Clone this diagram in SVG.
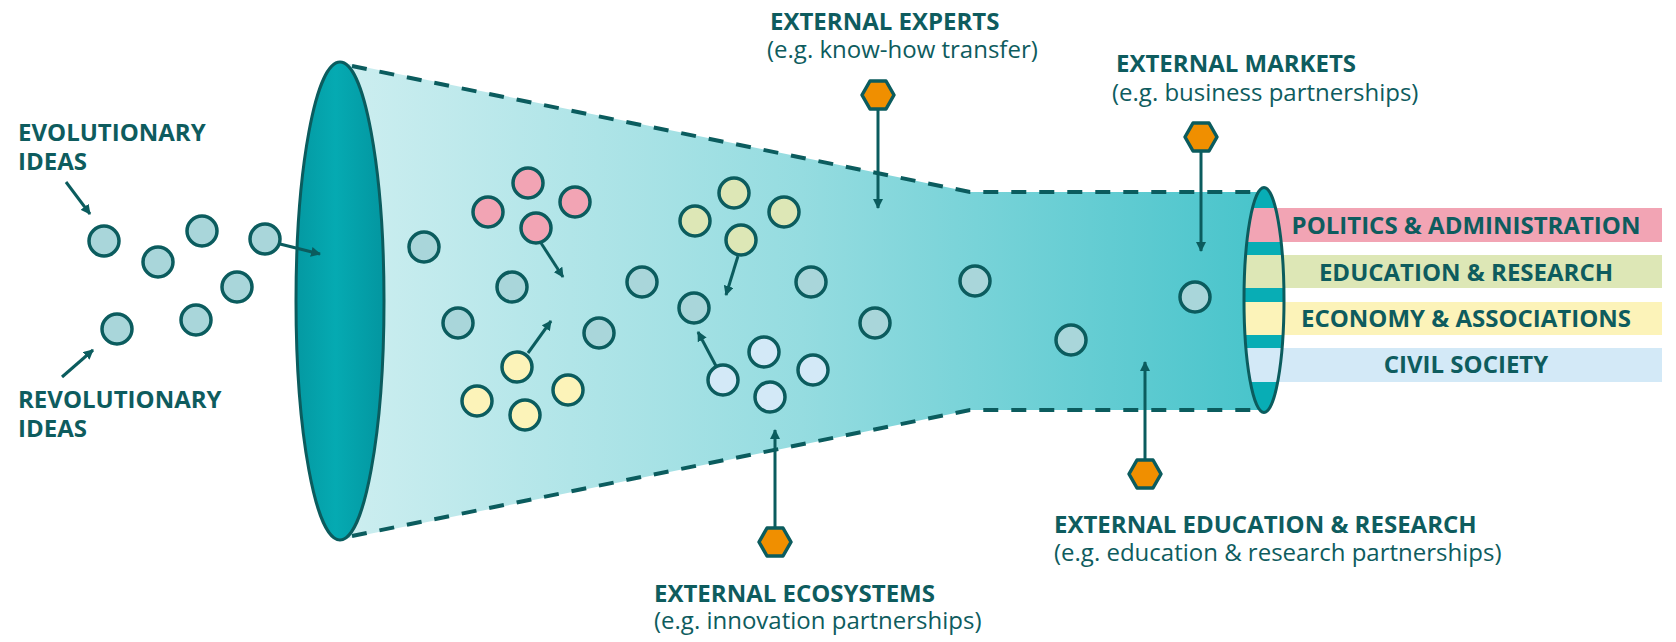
<svg xmlns="http://www.w3.org/2000/svg" width="1676" height="642" viewBox="0 0 1676 642">
<style>
.t{font-family:"Open Sans","Liberation Sans",sans-serif;fill:#0e5c5e}
.b{font-weight:700;font-size:24px}
.r{font-weight:400;font-size:24px}
.c{stroke:#0b5c5e;stroke-width:3.5}
.g{fill:#a9d6da}.p{fill:#f2a4b4}.gr{fill:#dde7b6}.y{fill:#fcf3b9}.bl{fill:#d3e9f7}
.ln{stroke:#0b5c5e;stroke-width:3;fill:none}
.hx{fill:#f08f00;stroke:#0b5c5e;stroke-width:3.5;stroke-linejoin:round}
.dash{stroke:#0b5c5e;stroke-width:4;fill:none;stroke-dasharray:15 13}
</style>
<defs>
<linearGradient id="fun" x1="340" y1="0" x2="1264" y2="0" gradientUnits="userSpaceOnUse">
<stop offset="0" stop-color="#cdeef0"/>
<stop offset="0.5" stop-color="#95dce0"/>
<stop offset="1" stop-color="#48c4cb"/>
</linearGradient>
<linearGradient id="mouth" x1="0" y1="0" x2="1" y2="0">
<stop offset="0" stop-color="#0499a2"/>
<stop offset="0.45" stop-color="#05aab2"/>
<stop offset="1" stop-color="#0396a0"/>
</linearGradient>
<clipPath id="endclip"><ellipse cx="1264" cy="300" rx="20" ry="112.5"/></clipPath>
<marker id="ah" viewBox="0 0 10 10" refX="9" refY="5" markerWidth="10" markerHeight="10" markerUnits="userSpaceOnUse" orient="auto">
<path d="M0,0 L10,5 L0,10 Z" fill="#0b5c5e"/>
</marker>
</defs>

<g id="funnel">
<path d="M340,62 L970,192 L1264,192 L1264,410 L970,410 L340,540 Z" fill="url(#fun)"/>
<path class="dash" d="M352,66 L970,192 L1262,192"/>
<path class="dash" d="M352,536 L970,410 L1262,410"/>
<ellipse cx="340" cy="301" rx="44" ry="239" fill="url(#mouth)" stroke="#0b5c5e" stroke-width="3"/>
</g>

<g id="sectors">
<rect x="1264" y="208" width="398" height="34" fill="#f2a4b4"/>
<rect x="1264" y="255" width="398" height="33" fill="#dde7b6"/>
<rect x="1264" y="302" width="398" height="33" fill="#fcf3b9"/>
<rect x="1264" y="348" width="398" height="34" fill="#d3e9f7"/>
<g clip-path="url(#endclip)">
<rect x="1240" y="185" width="50" height="235" fill="#08adb5"/>
<rect x="1240" y="208" width="50" height="34" fill="#f2a4b4"/>
<rect x="1240" y="255" width="50" height="33" fill="#dde7b6"/>
<rect x="1240" y="302" width="50" height="33" fill="#fcf3b9"/>
<rect x="1240" y="348" width="50" height="34" fill="#d3e9f7"/>
</g>
<ellipse cx="1264" cy="300" rx="20" ry="112.5" fill="none" stroke="#0b5c5e" stroke-width="3"/>
<text class="t b" x="1466" y="234" text-anchor="middle">POLITICS &amp; ADMINISTRATION</text>
<text class="t b" x="1466" y="281" text-anchor="middle">EDUCATION &amp; RESEARCH</text>
<text class="t b" x="1466" y="327" text-anchor="middle">ECONOMY &amp; ASSOCIATIONS</text>
<text class="t b" x="1466" y="373" text-anchor="middle">CIVIL SOCIETY</text>
</g>

<g id="ideas">
<circle class="c g" cx="104" cy="241" r="15"/>
<circle class="c g" cx="158" cy="262" r="15"/>
<circle class="c g" cx="202" cy="231" r="15"/>
<circle class="c g" cx="265" cy="239" r="15"/>
<circle class="c g" cx="237" cy="287" r="15"/>
<circle class="c g" cx="196" cy="320" r="15"/>
<circle class="c g" cx="117" cy="329" r="15"/>
</g>

<g id="inner-ideas">
<circle class="c g" cx="424" cy="247" r="15"/>
<circle class="c g" cx="512" cy="287" r="15"/>
<circle class="c g" cx="458" cy="323" r="15"/>
<circle class="c g" cx="599" cy="333" r="15"/>
<circle class="c g" cx="642" cy="282" r="15"/>
<circle class="c g" cx="694" cy="308" r="15"/>
<circle class="c g" cx="811" cy="282" r="15"/>
<circle class="c g" cx="875" cy="323" r="15"/>
<circle class="c g" cx="975" cy="281" r="15"/>
<circle class="c g" cx="1071" cy="340" r="15"/>
<circle class="c g" cx="1195" cy="297" r="15"/>
</g>

<g id="politics-cluster">
<circle class="c p" cx="528" cy="183" r="15"/>
<circle class="c p" cx="488" cy="212" r="15"/>
<circle class="c p" cx="575" cy="202" r="15"/>
<circle class="c p" cx="536" cy="228" r="15"/>
</g>
<g id="economy-cluster">
<circle class="c y" cx="517" cy="367" r="15"/>
<circle class="c y" cx="477" cy="401" r="15"/>
<circle class="c y" cx="525" cy="415" r="15"/>
<circle class="c y" cx="568" cy="390" r="15"/>
</g>
<g id="education-cluster">
<circle class="c gr" cx="734" cy="193" r="15"/>
<circle class="c gr" cx="695" cy="221" r="15"/>
<circle class="c gr" cx="784" cy="212" r="15"/>
<circle class="c gr" cx="741" cy="240" r="15"/>
</g>
<g id="civil-cluster">
<circle class="c bl" cx="764" cy="352" r="15"/>
<circle class="c bl" cx="723" cy="380" r="15"/>
<circle class="c bl" cx="813" cy="370" r="15"/>
<circle class="c bl" cx="770" cy="397" r="15"/>
</g>

<g id="externals">
<polygon class="hx" points="862,95 870,81 886,81 894,95 886,109 870,109"/>
<polygon class="hx" points="1185,137 1193,123 1209,123 1217,137 1209,151 1193,151"/>
<polygon class="hx" points="759,542 767,528 783,528 791,542 783,556 767,556"/>
<polygon class="hx" points="1129,474 1137,460 1153,460 1161,474 1153,488 1137,488"/>
</g>

<g id="connectors">
<line class="ln" x1="66" y1="182" x2="90" y2="214" marker-end="url(#ah)"/>
<line class="ln" x1="62" y1="377" x2="93" y2="350" marker-end="url(#ah)"/>
<line class="ln" x1="280" y1="244" x2="320" y2="254" marker-end="url(#ah)"/>
<line class="ln" x1="541" y1="243" x2="563" y2="277" marker-end="url(#ah)"/>
<line class="ln" x1="528" y1="353" x2="551" y2="321" marker-end="url(#ah)"/>
<line class="ln" x1="738" y1="256" x2="726" y2="295" marker-end="url(#ah)"/>
<line class="ln" x1="716" y1="366" x2="698" y2="332" marker-end="url(#ah)"/>
<line class="ln" x1="878" y1="109" x2="878" y2="208" marker-end="url(#ah)"/>
<line class="ln" x1="1201" y1="151" x2="1201" y2="251" marker-end="url(#ah)"/>
<line class="ln" x1="775" y1="528" x2="775" y2="430" marker-end="url(#ah)"/>
<line class="ln" x1="1145" y1="460" x2="1145" y2="362" marker-end="url(#ah)"/>
</g>

<g id="labels">
<text class="t b" x="18" y="141">EVOLUTIONARY</text>
<text class="t b" x="18" y="170">IDEAS</text>
<text class="t b" x="18" y="408">REVOLUTIONARY</text>
<text class="t b" x="18" y="437">IDEAS</text>
<text class="t b" x="770" y="30">EXTERNAL EXPERTS</text>
<text class="t r" x="767" y="58">(e.g. know-how transfer)</text>
<text class="t b" x="1116" y="72">EXTERNAL MARKETS</text>
<text class="t r" x="1112" y="101">(e.g. business partnerships)</text>
<text class="t b" x="654" y="602">EXTERNAL ECOSYSTEMS</text>
<text class="t r" x="654" y="629">(e.g. innovation partnerships)</text>
<text class="t b" x="1054" y="533">EXTERNAL EDUCATION &amp; RESEARCH</text>
<text class="t r" x="1054" y="561">(e.g. education &amp; research partnerships)</text>
</g>
</svg>
